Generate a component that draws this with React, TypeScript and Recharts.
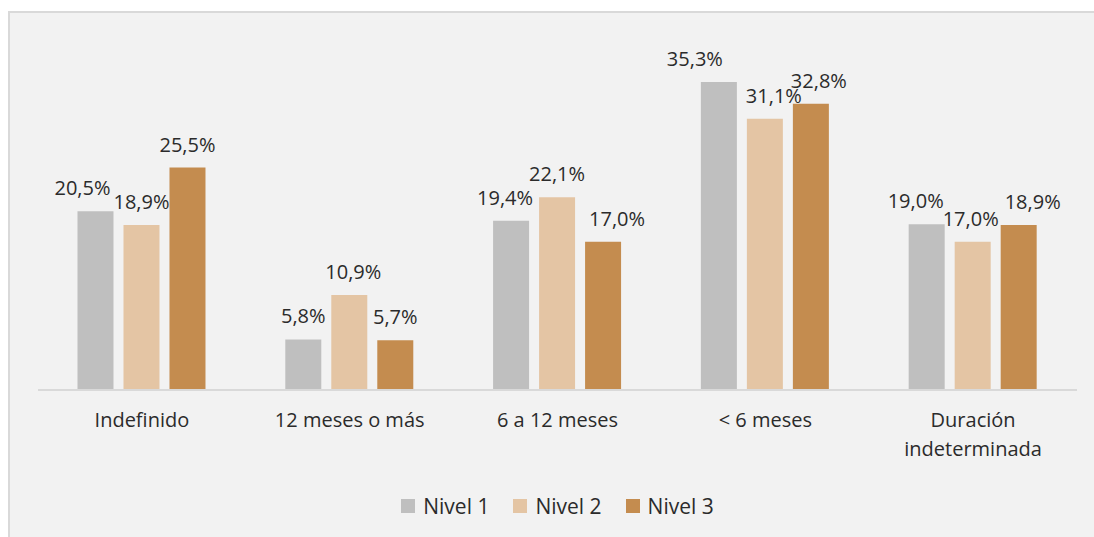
import { BarChart, Bar, XAxis, YAxis, Legend, LabelList } from 'recharts';

const categories = ['Indefinido', '12 meses o más', '6 a 12 meses', '< 6 meses', 'Duración indeterminada'];
const nivel1 = [20.5, 5.8, 19.4, 35.3, 19.0];
const nivel2 = [18.9, 10.9, 22.1, 31.1, 17.0];
const nivel3 = [25.5, 5.7, 17.0, 32.8, 18.9];

// horizontal nudges of the value labels (px), as placed in the original
const shift1 = [-13, 0, -6, -24, -11];
const shift2 = [0, 4, 0, 9, -2];
const shift3 = [0, 0, 14, 8, 14];

const series = [
  { key: 'Nivel 1', values: nivel1, shift: shift1, color: '#bfbfbf' },
  { key: 'Nivel 2', values: nivel2, shift: shift2, color: '#e4c5a4' },
  { key: 'Nivel 3', values: nivel3, shift: shift3, color: '#c48c4f' },
];

const data = categories.map((name, i) => {
  const row: Record<string, string | number> = { name };
  series.forEach((s) => { row[s.key] = s.values[i]; });
  return row;
});

const FONT = '"Open Sans", sans-serif';
const TEXT = '#2b2b2b';

const fmt = (v: number) => v.toFixed(1).replace('.', ',') + '%';

// wraps long category names onto two lines like the original
function CategoryTick({ x, y, payload }: any) {
  const label: string = payload.value;
  const lines = label === 'Duración indeterminada' ? ['Duración', 'indeterminada'] : [label];
  return (
    <text x={x} y={y} textAnchor="middle" fill={TEXT} fontSize={20} fontFamily={FONT}>
      {lines.map((l, i) => (
        <tspan key={l} x={x} y={y + 29 + i * 29}>{l}</tspan>
      ))}
    </text>
  );
}

function LegendContent({ payload }: any) {
  return (
    <div style={{ display: 'flex', justifyContent: 'center', gap: 24, fontFamily: FONT, fontSize: 21, color: TEXT }}>
      {(payload || []).map((p: any) => (
        <div key={p.value} style={{ display: 'flex', alignItems: 'center', gap: 8 }}>
          <span style={{ width: 14, height: 14, background: p.color, display: 'inline-block' }} />
          <span>{p.value}</span>
        </div>
      ))}
    </div>
  );
}

export default function App() {
  return (
    <div style={{
      position: 'absolute', left: 8, top: 11, width: 1084, height: 524,
      background: '#f2f2f2', borderTop: '2px solid #d9d9d9', borderLeft: '2px solid #d9d9d9',
    }}>
      <BarChart width={1084} height={524} data={data}
        margin={{ top: 28, right: 17, left: 28, bottom: 21 }}
        barCategoryGap="19%" barGap={10}>
        <XAxis dataKey="name" height={102} tickLine={false} interval={0}
          axisLine={{ stroke: '#d9d9d9', strokeWidth: 2 }} tick={<CategoryTick />} />
        <YAxis hide domain={[0, 40]} />
        <Legend verticalAlign="bottom" height={24} content={<LegendContent />} />
        {series.map((s) => (
          <Bar key={s.key} dataKey={s.key} fill={s.color} isAnimationActive={false}>
            <LabelList dataKey={s.key}
              content={(p: any) => (
                <text x={p.x + p.width / 2 + s.shift[p.index]} y={p.y - 16} textAnchor="middle"
                  fill={TEXT} fontSize={20} fontFamily={FONT}>{fmt(Number(p.value))}</text>
              )} />
          </Bar>
        ))}
      </BarChart>
    </div>
  );
}
